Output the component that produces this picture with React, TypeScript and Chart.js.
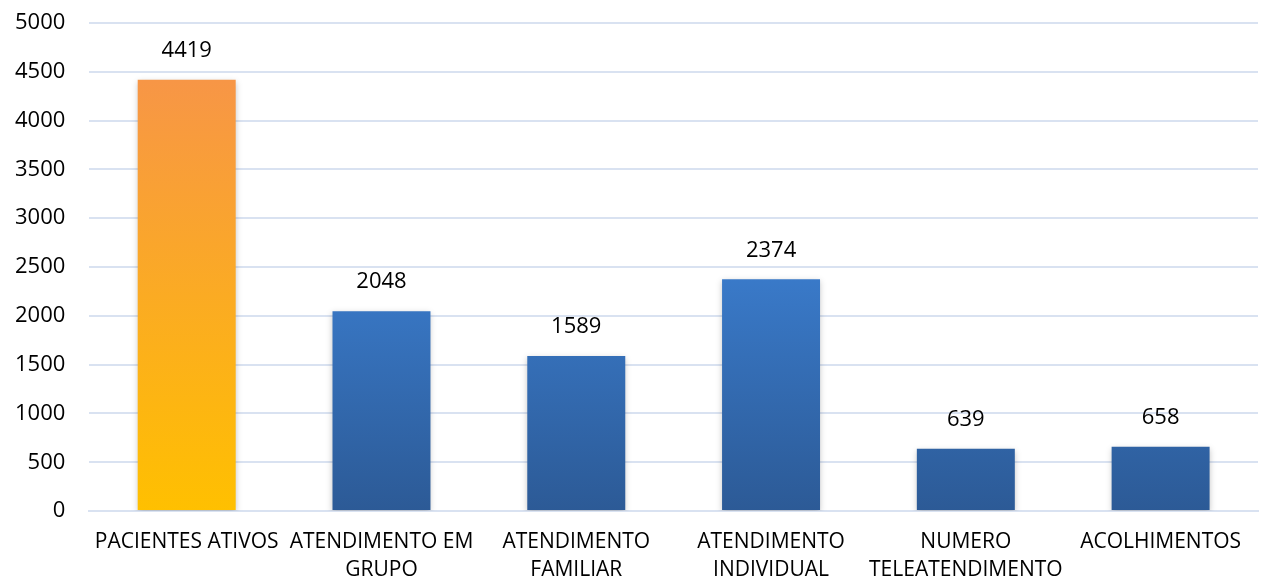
import React, { useEffect, useRef } from "react";
import { Chart, registerables } from "chart.js";

Chart.register(...registerables);

const categories: (string | string[])[] = [
  "PACIENTES ATIVOS",
  ["ATENDIMENTO EM", "GRUPO"],
  ["ATENDIMENTO", "FAMILIAR"],
  ["ATENDIMENTO", "INDIVIDUAL"],
  ["NUMERO", "TELEATENDIMENTO"],
  "ACOLHIMENTOS",
];
const values: number[] = [4419, 2048, 1589, 2374, 639, 658];
const highlightIndex = 0;
const yMax = 5000;
const yStep = 500;

const FONT = "'Open Sans', sans-serif";
const CANVAS_H = 601;

const valueLabels = {
  id: "valueLabels",
  afterDatasetsDraw(chart: any) {
    const ctx = chart.ctx;
    const meta = chart.getDatasetMeta(0);
    ctx.save();
    ctx.font = `22px ${FONT}`;
    ctx.fillStyle = "#000";
    ctx.textAlign = "center";
    ctx.textBaseline = "middle";
    meta.data.forEach((bar: any, i: number) => {
      ctx.fillText(String(values[i]), bar.x, bar.y - 29);
    });
    ctx.restore();
  },
};

const shadowPlugin = {
  id: "barShadow",
  beforeDatasetsDraw(chart: any) {
    const ctx = chart.ctx;
    ctx.save();
    ctx.shadowColor = "rgba(0,0,0,0.22)";
    ctx.shadowBlur = 6;
    ctx.shadowOffsetX = 0;
    ctx.shadowOffsetY = 2;
  },
  afterDatasetsDraw(chart: any) {
    chart.ctx.restore();
  },
};

export default function App() {
  const ref = useRef<HTMLCanvasElement>(null);
  useEffect(() => {
    if (!ref.current) return;
    const chart = new Chart(ref.current, {
      type: "bar",
      data: {
        labels: categories,
        datasets: [
          {
            data: values,
            backgroundColor: (c: any) => {
              const { chart, dataIndex } = c;
              const area = chart.chartArea;
              if (!area) return "#3A7CCB";
              const g = chart.ctx.createLinearGradient(0, area.top, 0, area.bottom);
              if (dataIndex === highlightIndex) {
                g.addColorStop(0, "#F79646");
                g.addColorStop(0.12, "#F79646");
                g.addColorStop(1, "#FFC000");
              } else {
                g.addColorStop(0, "#3C7DD0");
                g.addColorStop(0.5, "#3A7BCB");
                g.addColorStop(1, "#2C5A96");
              }
              return g;
            },
            barPercentage: 0.503,
            categoryPercentage: 1,
          },
        ],
      },
      options: {
        animation: false,
        responsive: false,
        maintainAspectRatio: false,
        layout: { autoPadding: false, padding: { top: 23, right: 4, left: -9, bottom: 0 } },
        plugins: { legend: { display: false }, tooltip: { enabled: false } },
        scales: {
          x: {
            grid: { display: false, drawTicks: false, tickLength: 0 },
            border: { color: "#D9E2F1", width: 2 },
            ticks: {
              color: "#000",
              font: { family: FONT, size: 21, lineHeight: 1.38 },
              maxRotation: 0,
              autoSkip: false,
              padding: 16,
            },
          },
          y: {
            min: 0,
            max: yMax,
            grid: { color: "#D9E2F1", lineWidth: 2, drawTicks: false },
            border: { display: false },
            afterFit: (scale: any) => {
              scale.paddingTop = 0;
              scale.paddingBottom = 0;
            },
            ticks: {
              stepSize: yStep,
              color: "#000",
              font: { family: FONT, size: 22 },
              padding: 24,
              callback: (v: any) => String(v),
            },
          },
        },
      },
      plugins: [shadowPlugin, valueLabels],
    });
    return () => chart.destroy();
  }, []);
  return (
    <div style={{ position: "absolute", left: 0, top: 0, width: 1262, height: 578, overflow: "hidden", background: "#fff" }}>
      <canvas ref={ref} width={1262} height={CANVAS_H} style={{ width: 1262, height: CANVAS_H, display: "block" }} />
    </div>
  );
}
